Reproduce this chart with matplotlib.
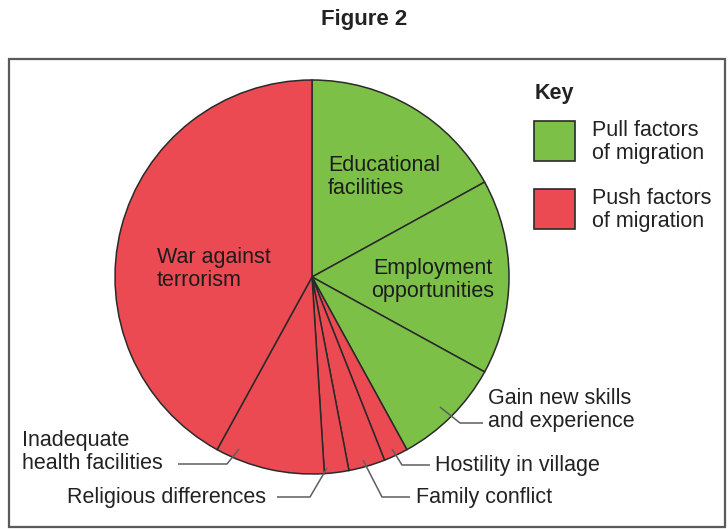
import matplotlib.pyplot as plt
from matplotlib.patches import Rectangle

plt.rcParams['font.family'] = ['Liberation Sans', 'DejaVu Sans']

# migration factors, percent of respondents (clockwise from the top)
factors = ['Educational facilities', 'Employment opportunities',
           'Gain new skills and experience', 'Hostility in village',
           'Family conflict', 'Religious differences',
           'Inadequate health facilities', 'War against terrorism']
shares = [17, 16, 9, 2, 3, 2, 9, 42]
kind = ['pull', 'pull', 'pull', 'push', 'push', 'push', 'push', 'push']

kind_colors = {'pull': '#7dc048', 'push': '#ec4a52'}
key_labels = {'pull': 'Pull factors\nof migration', 'push': 'Push factors\nof migration'}

W, H = 728, 529


def px(x, y):
    # canvas pixels measured from the top-left corner
    return x, H - y


fig = plt.figure(figsize=(W / 100, H / 100), dpi=100)
ax = fig.add_axes([0, 0, 1, 1])

ax.pie(shares, colors=[kind_colors[k] for k in kind], startangle=90,
       counterclock=False, radius=197, center=px(312, 277),
       wedgeprops=dict(edgecolor='#2a2a2a', linewidth=1.1))

ax.set_xlim(0, W)
ax.set_ylim(0, H)
ax.set_aspect('equal')
ax.axis('off')

# outer frame
x0, y0 = px(9, 527)
ax.add_patch(Rectangle((x0, y0), 716, 468, fill=False,
                       edgecolor='#5a5a5a', linewidth=1.6))

fs = 15.5
tc = '#222222'
fig.text(0.5, 1 - 20 / H, 'Figure 2', ha='center', va='center',
         fontsize=16, fontweight='bold', color=tc)

# labels inside the pie
ax.text(*px(328, 177), 'Educational\nfacilities', ha='left', va='center',
        fontsize=fs, color='#1c1c1c', linespacing=1.1)
ax.text(*px(433, 280), 'Employment\nopportunities', ha='center', va='center',
        fontsize=fs, color='#1c1c1c', linespacing=1.1, multialignment='center')
ax.text(*px(157, 269), 'War against\nterrorism', ha='left', va='center',
        fontsize=fs, color='#1c1c1c', linespacing=1.1)

# labels outside the pie with leader lines
outside = [
    ('Gain new skills\nand experience', (488, 410), [(440, 407), (460, 423), (483, 423)]),
    ('Hostility in village', (435, 465), [(392, 449), (402, 465), (430, 465)]),
    ('Family conflict', (416, 497), [(363, 460), (382, 497), (410, 497)]),
    ('Religious differences', (67, 497), [(327, 468), (310, 497), (277, 497)]),
    ('Inadequate\nhealth facilities', (22, 452), [(239, 449), (227, 464), (178, 464)]),
]
for text, pos, leader in outside:
    ax.text(*px(*pos), text, ha='left', va='center', fontsize=fs,
            color=tc, linespacing=1.1)
    xs = [p[0] for p in leader]
    ys = [H - p[1] for p in leader]
    ax.plot(xs, ys, color='#5e5e5e', linewidth=1.1, solid_capstyle='butt')

# key
ax.text(*px(535, 93), 'Key', ha='left', va='center', fontsize=fs,
        fontweight='bold', color=tc)
for k, top in [('pull', 121), ('push', 189)]:
    bx, by = px(534, top + 40)
    ax.add_patch(Rectangle((bx, by), 41, 40, facecolor=kind_colors[k],
                           edgecolor='#2a2a2a', linewidth=1.2))
    ax.text(*px(592, top + 21), key_labels[k], ha='left', va='center',
            fontsize=fs, color=tc, linespacing=1.1)

fig.savefig('out.png', dpi=100, facecolor='white')
